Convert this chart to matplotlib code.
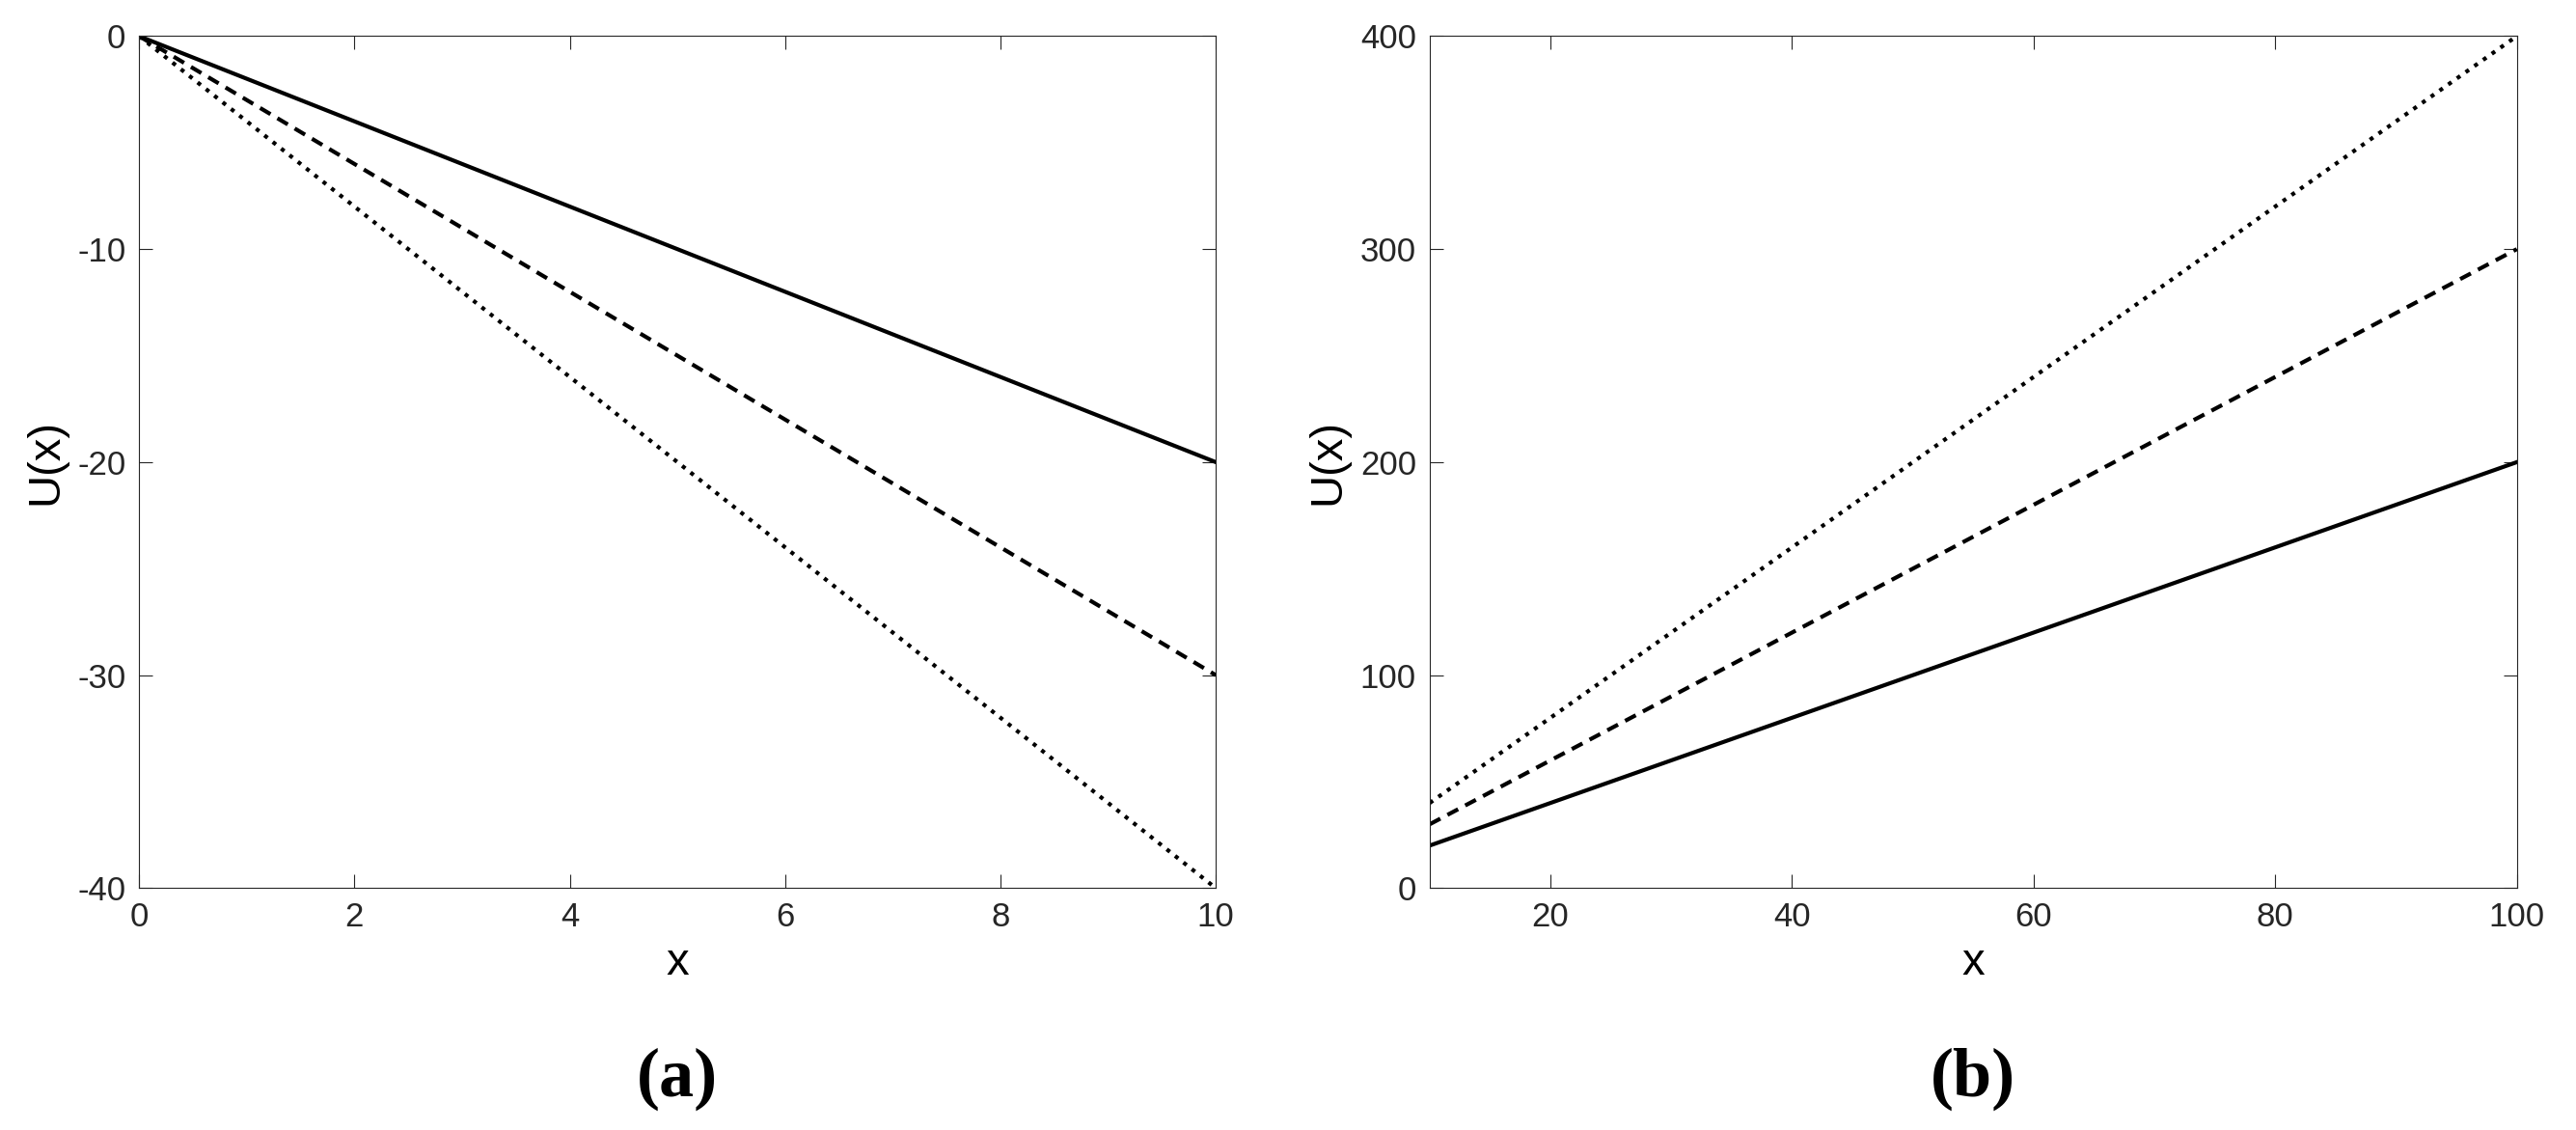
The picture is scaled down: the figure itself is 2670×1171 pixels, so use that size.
import matplotlib
matplotlib.use("Agg")
import matplotlib.pyplot as plt
import numpy as np

plt.rcParams['font.family'] = ['Liberation Sans', 'DejaVu Sans']
plt.rcParams['axes.unicode_minus'] = False

xa = [0, 10]
ua_solid = [0, -20]
ua_dash = [0, -30]
ua_dot = [0, -40]
xb = [10, 100]
ub_solid = [20, 200]
ub_dash = [30, 300]
ub_dot = [40, 400]

fig = plt.figure(figsize=(26.7, 11.71), dpi=100)
axa = fig.add_axes([0.054, 0.214, 0.418, 0.754])
axb = fig.add_axes([0.555, 0.214, 0.422, 0.754])

for ax, x, s, d, o in [(axa, xa, ua_solid, ua_dash, ua_dot), (axb, xb, ub_solid, ub_dash, ub_dot)]:
    ax.plot(x, s, 'k-', lw=3)
    ax.plot(x, d, 'k--', lw=3, dashes=(3, 2))
    ax.plot(x, o, 'k:', lw=3)
    ax.tick_params(direction='in', top=True, right=True, labelsize=25, length=10, width=0.8,
                   colors='#262626', pad=10)
    for sp in ax.spines.values():
        sp.set_color('#262626'); sp.set_linewidth(0.8)
    ax.set_xlabel('x', fontsize=34, labelpad=6)
    ax.set_ylabel('U(x)', fontsize=34, labelpad=8)

axa.set_xlim(0, 10); axa.set_ylim(-40, 0)
axa.set_xticks([0, 2, 4, 6, 8, 10]); axa.set_yticks([-40, -30, -20, -10, 0])
axb.set_xlim(10, 100); axb.set_ylim(0, 400)
axb.set_xticks([20, 40, 60, 80, 100]); axb.set_yticks([0, 100, 200, 300, 400])

fig.text(0.263, 0.03, '(a)', fontsize=52, fontweight='bold', family='Liberation Serif', ha='center')
fig.text(0.766, 0.03, '(b)', fontsize=52, fontweight='bold', family='Liberation Serif', ha='center')

fig.savefig('out.png', dpi=100)
